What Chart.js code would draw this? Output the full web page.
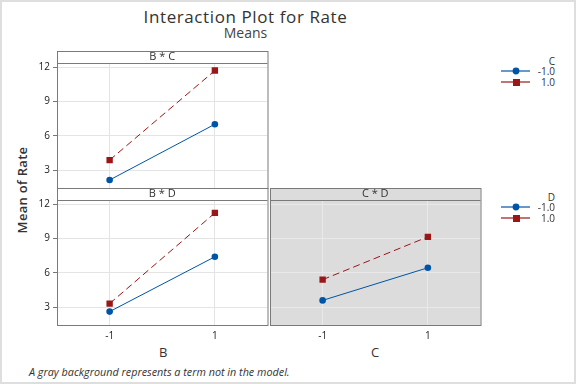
<!DOCTYPE html>
<html>
<head>
<meta charset="utf-8">
<script src="https://cdn.jsdelivr.net/npm/chart.js@4.4.1/dist/chart.umd.min.js"></script>
<style>
  html, body { margin: 0; padding: 0; background: #fff; }
  #fig { position: relative; width: 576px; height: 384px; overflow: hidden; font-family: "Open Sans", "Noto Sans", sans-serif; color: #333; }
  #frame { position: absolute; left: 0; top: 0; width: 576px; height: 384px; box-sizing: border-box; border: 2px solid #dedede; pointer-events: none; }
  .abs { position: absolute; white-space: nowrap; }
  canvas { position: absolute; }
  .lg { position: absolute; font-size: 10px; color: #333; }
</style>
</head>
<body>
<div id="fig">
  <div class="abs" style="left:0; width:491px; top:5px; text-align:center; font-size:17px; letter-spacing:0.6px;">Interaction Plot for Rate</div>
  <div class="abs" style="left:0; width:491px; top:23px; text-align:center; font-size:14px; color:#444;">Means</div>
  <div class="abs" style="left:22px; top:190px; transform:translate(-50%,-50%) rotate(-90deg); font-size:13px; font-weight:600; letter-spacing:0.3px;">Mean of Rate</div>
  <div class="abs" style="left:159px; top:343px; font-size:13px;">B</div>
  <div class="abs" style="left:371px; top:343px; font-size:13px;">C</div>
  <div class="abs" style="left:29px; top:364px; font-size:10.8px; font-style:italic;">A gray background represents a term not in the model.</div>
  <canvas id="pBC"></canvas>
  <canvas id="pBD"></canvas>
  <canvas id="pCD"></canvas>
  <div id="legC"></div>
  <div id="legD"></div>
  <div id="frame"></div>
</div>
<script>
// factor levels and tick labels
const levels = [-1, 1];
const xTicks = [-1, 1];
const yTicks = [3, 6, 9, 12];
const legendLevels = ['-1.0', '1.0'];

// means (low = second factor at -1, high = at 1)
const bcLow = [2.13, 7.0];
const bcHigh = [3.87, 11.69];
const bdLow = [2.6, 7.39];
const bdHigh = [3.3, 11.22];
const cdLow = [3.58, 6.43];
const cdHigh = [5.39, 9.13];

const BLUE = '#0054a6';
const RED = '#9b1616';
const FONT = '"Open Sans", "Noto Sans", sans-serif';

function pts(vals) {
  return levels.map((x, i) => ({ x: x, y: vals[i] }));
}

// panel box, header strip and fill
const panelBox = {
  id: 'panelBox',
  beforeDraw(chart, args, opts) {
    const a = chart.chartArea, ctx = chart.ctx;
    ctx.save();
    ctx.fillStyle = opts.fill;
    ctx.fillRect(a.left, a.top - 12, a.right - a.left, a.bottom - a.top + 12);
    ctx.restore();
  },
  afterDraw(chart, args, opts) {
    const a = chart.chartArea, ctx = chart.ctx;
    ctx.save();
    ctx.strokeStyle = '#7a7a7a';
    ctx.lineWidth = 1;
    ctx.strokeRect(a.left + 0.5, a.top - 12 + 0.5, a.right - a.left, a.bottom - a.top + 12);
    ctx.beginPath();
    ctx.moveTo(a.left, a.top + 0.5);
    ctx.lineTo(a.right, a.top + 0.5);
    ctx.stroke();
    ctx.fillStyle = '#333';
    ctx.font = '11px ' + FONT;
    ctx.textAlign = 'center';
    ctx.textBaseline = 'middle';
    ctx.fillText(opts.title, (a.left + a.right) / 2, a.top - 6);
    ctx.restore();
  }
};

function makePanel(id, left, top, title, low, high, showX, showY, fill) {
  const cv = document.getElementById(id);
  cv.width = 260; cv.height = 159;
  cv.style.left = (left - 45) + 'px';
  cv.style.top = top + 'px';
  const grid = fill === '#fff' ? '#e4e4e4' : '#e9e9e9';
  new Chart(cv, {
    type: 'line',
    data: {
      datasets: [
        { data: pts(low), borderColor: BLUE, backgroundColor: BLUE, borderWidth: 1,
          pointStyle: 'circle', pointRadius: 3.3, pointBorderWidth: 0, pointHoverRadius: 3.3 },
        { data: pts(high), borderColor: RED, backgroundColor: RED, borderWidth: 1, borderDash: [7, 4],
          pointStyle: 'rect', pointRadius: 4.5, pointBorderWidth: 0, pointHoverRadius: 4.5 }
      ]
    },
    options: {
      responsive: false,
      animation: false,
      devicePixelRatio: 1,
      layout: { padding: { top: 12, right: 2, left: 0, bottom: 0 } },
      plugins: { legend: { display: false }, tooltip: { enabled: false }, panelBox: { title: title, fill: fill } },
      scales: {
        x: {
          type: 'linear', min: -2, max: 2,
          afterBuildTicks: s => { s.ticks = xTicks.map(v => ({ value: v })); },
          afterFit: s => { s.height = 22; },
          border: { display: false },
          grid: { color: grid, tickLength: 4, tickColor: 'rgba(0,0,0,0)' },
          ticks: { color: showX ? '#222' : 'rgba(0,0,0,0)', font: { size: 10, family: FONT }, padding: 1,
                   callback: v => String(v) }
        },
        y: {
          type: 'linear', min: 1.43, max: 12.35,
          afterBuildTicks: s => { s.ticks = yTicks.map(v => ({ value: v })); },
          afterFit: s => { s.width = 45; },
          border: { display: false },
          grid: { color: grid, tickLength: 4, tickColor: showY ? '#777' : 'rgba(0,0,0,0)' },
          ticks: { color: showY ? '#222' : 'rgba(0,0,0,0)', font: { size: 10, family: FONT }, padding: 3 }
        }
      }
    },
    plugins: [panelBox]
  });
}

makePanel('pBC', 57, 51, 'B * C', bcLow, bcHigh, false, true, '#fff');
makePanel('pBD', 57, 188, 'B * D', bdLow, bdHigh, true, true, '#fff');
makePanel('pCD', 270, 188, 'C * D', cdLow, cdHigh, true, false, '#dcdcdc');

// legends
function makeLegend(id, name, top) {
  const el = document.getElementById(id);
  let html = '<div class="lg" style="left:520px; width:35px; text-align:right; top:' + (top - 7) + 'px;">' + name + '</div>';
  const cols = [BLUE, RED];
  legendLevels.forEach((lab, i) => {
    const y = top + 10 + i * 11;
    const marker = i === 0
      ? '<circle cx="15" cy="5" r="3.4" fill="' + cols[i] + '"/>'
      : '<rect x="12" y="2" width="7" height="7" fill="' + cols[i] + '"/>';
    html += '<svg class="lg" style="left:501px; top:' + (y - 5) + 'px;" width="30" height="10">' +
      '<line x1="0" y1="5" x2="29" y2="5" stroke="' + cols[i] + '" stroke-width="1.2"/>' + marker + '</svg>';
    html += '<div class="lg" style="left:520px; width:35px; text-align:right; top:' + (y - 7) + 'px;">' + lab + '</div>';
  });
  el.innerHTML = html;
}
makeLegend('legC', 'C', 61);
makeLegend('legD', 'D', 197);
</script>
</body>
</html>
